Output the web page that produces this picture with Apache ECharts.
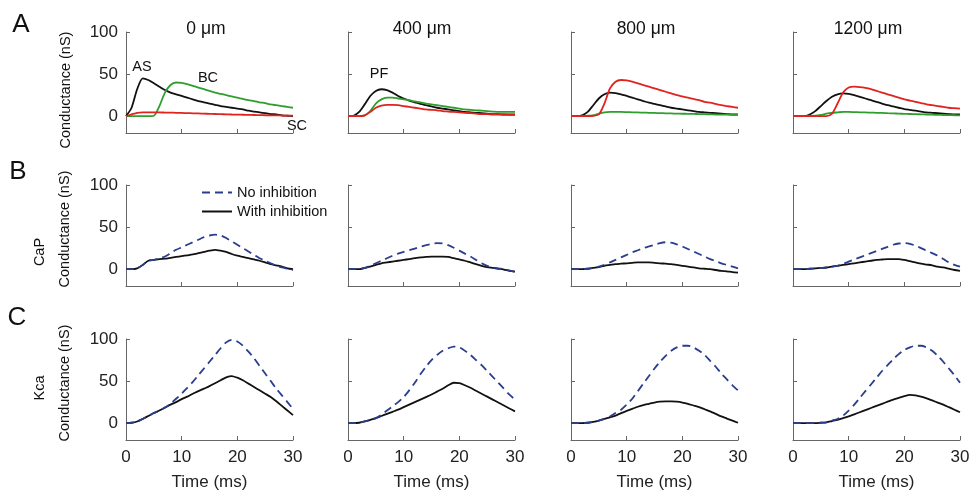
<!DOCTYPE html>
<html>
<head>
<meta charset="utf-8">
<script src="https://cdn.jsdelivr.net/npm/echarts@6/dist/echarts.min.js"></script>
<style>
html,body{margin:0;padding:0;background:#fff;}
#main{width:970px;height:492px;}
</style>
</head>
<body>
<div id="main"></div>
<script>
// time axis (ms)
var time = [0,1,2,3,4,5,6,7,8,9,10,11,12,13,14,15,16,17,18,19,20,21,22,23,24,25,26,27,28,29,30];

var distances = ['0 \u03bcm','400 \u03bcm','800 \u03bcm','1200 \u03bcm'];

// row A : synaptic conductances (black = AS/PF, green = BC, red = SC)
var a0Black = [0,10,32,45,43,39,35,31,28,26,24,22,20,18,16.5,15,13.5,12,11,10,9,8,6.5,5.5,4.5,3.5,2.5,2,1,0.5,0];
var a0Green = [0,0,0,0,0,0.5,12,28,37,40,39.5,38,36,34,32,30,28,26.5,25,23.5,22,20.5,19,18,16.5,15.5,14,13,12,11,10];
var a0Red   = [0,2,4,4.5,4.5,4.5,4.5,4.3,4.2,4,3.8,3.6,3.4,3.2,3,2.8,2.6,2.4,2.2,2,1.9,1.7,1.5,1.4,1.2,1.1,1,0.9,0.8,0.7,0.6];

var a1Black = [0,0.5,5,14,24,30,32,31,28,24,21,18.5,16.5,14.5,13,11.5,10,9,8,7,6,5,4.5,4,3.5,3,2.5,2.5,2,2,2];
var a1Green = [0,0,0,1,6,15,20,22,22,21,20,19,17.5,16.5,15,14,13,12,11,10,9,8,7.5,7,6.5,6,5.5,5,5,5,5];
var a1Red   = [0,0,0,1,5,10,12.5,13.5,13.5,13,12,11,10,9,8,7.5,7,6,5.5,5,4.5,4,3.5,3,2.5,2.5,2,2,2,1.5,1.5];

var a2Black = [0,0,1,5,13,21,26,28,27.5,26,24,22,20,18,16,14.5,13,11.5,10,9,8,7,6,5,4.5,4,3.5,3,2.5,2,2];
var a2Green = [0,0,0,0.5,1,3,4.5,5,5,5,4.8,4.6,4.4,4.2,4,3.8,3.6,3.4,3.2,3,2.9,2.8,2.7,2.5,2.4,2.2,2,1.9,1.8,1.6,1.5];
var a2Red   = [0,0,0,0,0.5,2,15,33,41,43,42.5,41,39,37,35,33,31,29,27,25,23.5,22,20.5,19,17,16,14.5,13,12,11,10];

var a3Black = [0,0,0,2,6,12,18,23,26,27,26.5,25,23,21,19,17,15,13,11.5,10,8.5,7.5,6.5,5.5,4.5,4,3.5,3,2.5,2,2];
var a3Green = [0,0,0,0,0.5,1.5,3,4,4.5,5,5,4.8,4.6,4.4,4.2,4,3.8,3.5,3.3,3,2.8,2.6,2.4,2.2,2,1.8,1.6,1.4,1.2,1.1,1];
var a3Red   = [0,0,0,0,0,0,0,3,15,28,34,35,34.5,33.5,32,30,28,26,24,22,20,18.5,17,15.5,14,13,12,11,10,9.5,9];

// row B : CaP conductance (dashed = no inhibition, solid = with inhibition)
var b0No   = [0,0,1,5,10,11,13,15,19,23,26,29,32,35,38,40,41,40,37,33,29,25,21,17,13,10,7,4,2,0.5,-1];
var b0With = [0,0,1,5,10,11,12,12.5,13.5,14.5,15.5,16.5,17.5,19,20.5,22,23,22,20.5,18,16,14.5,13,11.5,10,8,6,4.5,3,1,0];

var b1No   = [0,0,0,1.5,4,7,10,13,16,18.5,20.5,22.5,24.5,26.5,28.5,30,31,30.5,28.5,25.5,22,18.5,15,11,7,4,2,1,0,-1.5,-3];
var b1With = [0,0,0,1.5,3,5,7,8,9,10,11,12,13,14,14.5,15,15,15,14.5,13,11.5,10,8,6,4,2.5,1.5,0.5,-0.5,-2,-3];

var b2No   = [0,0,0,0.5,1.5,3,5,8,11,14,17,20,22.5,25,27,29,31,32,31.5,29.5,27,24,21,18,15,12,9.5,7,5,3,1];
var b2With = [0,0,0,0.5,1.5,2.5,4,5,6,6.5,7,7.5,8,8,8,7.5,7,6.5,6,5,4,3,2,1,0.5,0,-1,-2,-2.5,-3.5,-4];

var b3No   = [0,0,0,0.5,1,1.5,2,3,4,6,9,11.5,14,16.5,19,21.5,24,26.5,29,30.5,31,30,28,25,22,19,16,12,8,5,3];
var b3With = [0,0,0,0.5,1,1.5,2,3,4,5,6,7,8,9,10,11,11.5,12,12,12,11,9.5,8,6.5,5.5,4.5,3,2,0.5,-1,-2];

// row C : Kca conductance
var c0No   = [0,0.5,2,5,8.5,12,15,18.5,23,29,35,42,49,57,65,73,81,89,96,99,97,92,85,77,68,59,50,41,33,25,17];
var c0With = [0,0.5,2,5,8.5,12,15,18.5,22,25,28.5,31.5,35,38,41,44,47.5,51,54.5,56,54,51,47,43,39,35,31,26,20.5,15,9.5];

var c1No   = [0,0,0.5,2,4,6,10,15,20,25,31,39,48,58,67,75,81,86,89,91,90,86,81,75,69,62,55,48,41,34,28];
var c1With = [0,0,0.5,2,4,6,8.5,11,13.5,16,19,22,25,28,31,34,37.5,41,45,48,47.5,45,42,38.5,35,31.5,28,24.5,21,17.5,14];

var c2No   = [0,0,0,0.5,1.5,3,5,8,12,16,22,29,38,47,56,65,73,80,86,90,92,92,90,86,81,74,67,59,52,45,39];
var c2With = [0,0,0,0.5,1.5,3,5,7,9,12,14.5,17,19.5,21.5,23,24.5,25.5,26,26,25.5,24.5,23,21,19,16.5,14,11,8,5.5,3,0.5];

var c3No   = [0,0,0,0,0,0.5,1,3,5,9,15,22,30,38,46,54,62,69,76,82,87,90,92,92,90,86,80,73,65,57,48];
var c3With = [0,0,0,0,0,0.5,1,2.5,4,6,8,10.5,13,15.5,18,20.5,23,25.5,28,30,32,33.5,33,31.5,29.5,27,24.5,22,19,16,13];

var panelsA = [[a0Black,a0Green,a0Red],[a1Black,a1Green,a1Red],[a2Black,a2Green,a2Red],[a3Black,a3Green,a3Red]];
var panelsB = [[b0No,b0With],[b1No,b1With],[b2No,b2With],[b3No,b3With]];
var panelsC = [[c0No,c0With],[c1No,c1With],[c2No,c2With],[c3No,c3With]];

var colLeft = [126, 348, 571, 793];
var rowTop = [32, 185, 339];
var panelW = 167, panelH = 101;

var BLACK = '#111', GREEN = '#2e9e2e', RED = '#e0231e', BLUE = '#2a3d8f';
var FONT = 'Liberation Sans, Arial, sans-serif';

function toPts(vals) {
    return time.map(function (t, i) { return [t, vals[i]]; });
}

function buildChart() {
var myChart = echarts.init(document.getElementById('main'), null, {renderer: 'canvas'});

var grids = [], xAxes = [], yAxes = [], series = [];

for (var r = 0; r < 3; r++) {
    for (var c = 0; c < 4; c++) {
        var gi = r * 4 + c;
        grids.push({left: colLeft[c], top: rowTop[r], width: panelW, height: panelH, outerBoundsMode: 'none'});
        xAxes.push({
            gridIndex: gi, type: 'value', min: 0, max: 30, interval: 10,
            axisLine: {onZero: false, lineStyle: {color: '#666', width: 1}},
            axisTick: {inside: true, length: 4, lineStyle: {color: '#666'}},
            axisLabel: {show: r === 2, fontSize: 17, color: '#222', margin: 9, fontFamily: FONT},
            splitLine: {show: false},
            name: r === 2 ? 'Time (ms)' : '',
            nameLocation: 'middle', nameGap: 34,
            nameTextStyle: {fontSize: 17, color: '#222', fontFamily: FONT}
        });
        yAxes.push({
            gridIndex: gi, type: 'value', min: -20, max: 100,
            axisLine: {show: true, onZero: false, lineStyle: {color: '#666', width: 1}},
            axisTick: {show: true, inside: true, length: 4, customValues: [0, 50, 100], lineStyle: {color: '#666'}},
            axisLabel: {show: c === 0, customValues: [0, 50, 100], fontSize: 17, color: '#222', margin: 8, fontFamily: FONT},
            splitLine: {show: false}
        });

        if (r === 0) {
            var p = panelsA[c];
            addLine(gi, 'AS', p[0], BLACK, false);
            addLine(gi, 'BC', p[1], GREEN, false);
            addLine(gi, 'SC', p[2], RED, false);
        } else {
            var q = (r === 1 ? panelsB : panelsC)[c];
            addLine(gi, 'With inhibition', q[1], BLACK, false);
            addLine(gi, 'No inhibition', q[0], BLUE, true);
        }
    }
}

function addLine(gi, name, vals, color, dashed) {
    series.push({
        name: name, type: 'line', xAxisIndex: gi, yAxisIndex: gi,
        data: toPts(vals),
        showSymbol: false, symbol: 'none',
        smooth: 0.25,
        lineStyle: {color: color, width: 1.8, type: dashed ? [8, 5] : 'solid'},
        itemStyle: {color: color},
        z: dashed ? 3 : 2
    });
}

// texts: panel letters, column titles, axis names, curve labels
var graphics = [];
function txt(s, x, y, size, rot) {
    graphics.push({
        type: 'text', x: x, y: y, rotation: rot || 0,
        style: {text: s, fontSize: size, fontFamily: FONT, fill: '#111', textAlign: 'center', textVerticalAlign: 'middle'}
    });
}
txt('A', 21, 25, 26);
txt('B', 18, 172, 26);
txt('C', 17, 318, 26);

var titleX = [206, 422, 646, 868];
for (var k = 0; k < 4; k++) txt(distances[k], titleX[k], 29, 17.5);

txt('Conductance (nS)', 66, 90, 14.5, Math.PI / 2);
txt('Conductance (nS)', 65, 229, 14.5, Math.PI / 2);
txt('CaP', 40, 252, 14.5, Math.PI / 2);
txt('Conductance (nS)', 65, 383, 14.5, Math.PI / 2);
txt('Kca', 40, 388, 14.5, Math.PI / 2);

txt('AS', 142, 67, 14.5);
txt('BC', 208, 78, 14.5);
txt('SC', 297, 126, 14.5);
txt('PF', 379, 74, 14.5);

option = {
    backgroundColor: '#fff',
    animation: false,
    legend: {
        data: ['No inhibition', 'With inhibition'],
        orient: 'vertical', left: 201, top: 185, padding: 0,
        itemWidth: 30, itemHeight: 14, itemGap: 4,
        itemStyle: {opacity: 0},
        textStyle: {fontSize: 14.5, color: '#111', fontFamily: FONT}
    },
    grid: grids,
    xAxis: xAxes,
    yAxis: yAxes,
    series: series,
    graphic: graphics
};

myChart.setOption(option);
}

buildChart();
</script>
</body>
</html>
